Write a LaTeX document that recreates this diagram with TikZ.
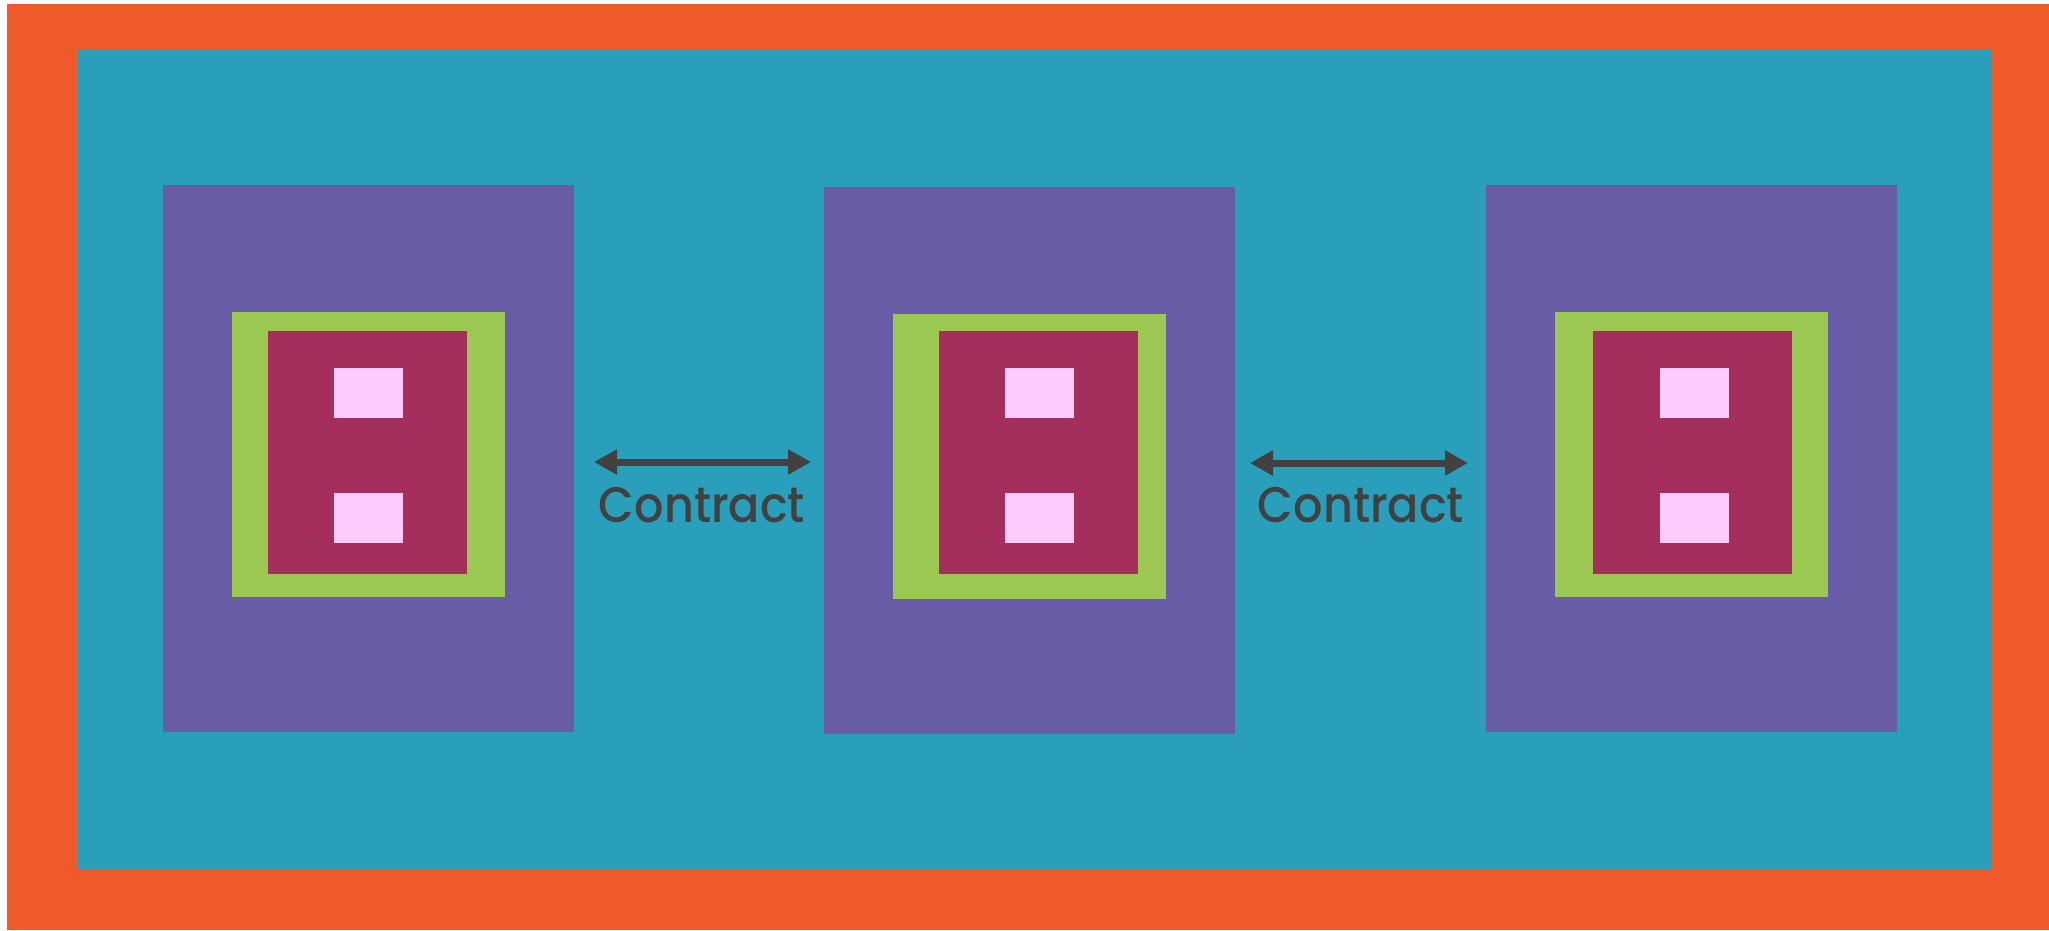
\documentclass[tikz,border=0pt]{standalone}
\usepackage{fontspec}
\setmainfont{Poppins}
\newfontfamily\lblfont{Poppins Medium}[FakeStretch=0.925]
\usetikzlibrary{fit,arrows.meta}
\definecolor{cOrange}{HTML}{F05A2A}
\definecolor{cTeal}{HTML}{2A9FBC}
\definecolor{cPurple}{HTML}{685CA7}
\definecolor{cGreen}{HTML}{9BC753}
\definecolor{cMaroon}{HTML}{A52F5C}
\definecolor{cPink}{HTML}{FECBFE}
\definecolor{cGray}{HTML}{414141}
\tikzset{
  blk/.style={inner sep=0pt, outer sep=0pt, draw=none, fill=#1},
  contractarrow/.style={line width=0.07cm, color=cGray,
    {Triangle[length=0.23cm,width=0.24cm]}-{Triangle[length=0.23cm,width=0.24cm]}},
  lbl/.style={text=cGray, font=\lblfont\fontsize{14.2pt}{17pt}\selectfont, inner sep=0pt, anchor=base}
}
\newcommand{\blkbox}[6]{\node[blk=#6, fit={(#2,#3) (#4,#5)}] (#1) {};}
\begin{document}
\begin{tikzpicture}[x=0.01cm,y=-0.01cm]
\useasboundingbox (0,0) rectangle (2049,930);
\fill[white] (0,0) rectangle (2049,930);
\blkbox{outer}{7}{4}{2049}{930}{cOrange}
\blkbox{inner}{77}{49}{1992}{869}{cTeal}
% left block
\blkbox{pL}{163}{185}{574}{732}{cPurple}
\blkbox{gL}{232}{312}{505}{597}{cGreen}
\blkbox{mL}{268}{331}{467}{574}{cMaroon}
\blkbox{kL1}{334}{368}{403}{418}{cPink}
\blkbox{kL2}{334}{493}{403}{543}{cPink}
% middle block
\blkbox{pM}{824}{187}{1235}{734}{cPurple}
\blkbox{gM}{893}{314}{1166}{599}{cGreen}
\blkbox{mM}{939}{331}{1138}{574}{cMaroon}
\blkbox{kM1}{1005}{368}{1074}{418}{cPink}
\blkbox{kM2}{1005}{493}{1074}{543}{cPink}
% right block
\blkbox{pR}{1486}{185}{1897}{732}{cPurple}
\blkbox{gR}{1555}{312}{1828}{597}{cGreen}
\blkbox{mR}{1593}{331}{1792}{574}{cMaroon}
\blkbox{kR1}{1660}{368}{1729}{418}{cPink}
\blkbox{kR2}{1660}{493}{1729}{543}{cPink}
% arrows
\coordinate (a1s) at (594,462);
\coordinate (a1e) at (811,462);
\coordinate (a2s) at (1250,463);
\coordinate (a2e) at (1468,463);
\draw[contractarrow] (a1s) -- (a1e);
\draw[contractarrow] (a2s) -- (a2e);
\node[lbl] (t1) at (702,522) {Contract};
\node[lbl] (t2) at (1361,522) {Contract};
\end{tikzpicture}
\end{document}
